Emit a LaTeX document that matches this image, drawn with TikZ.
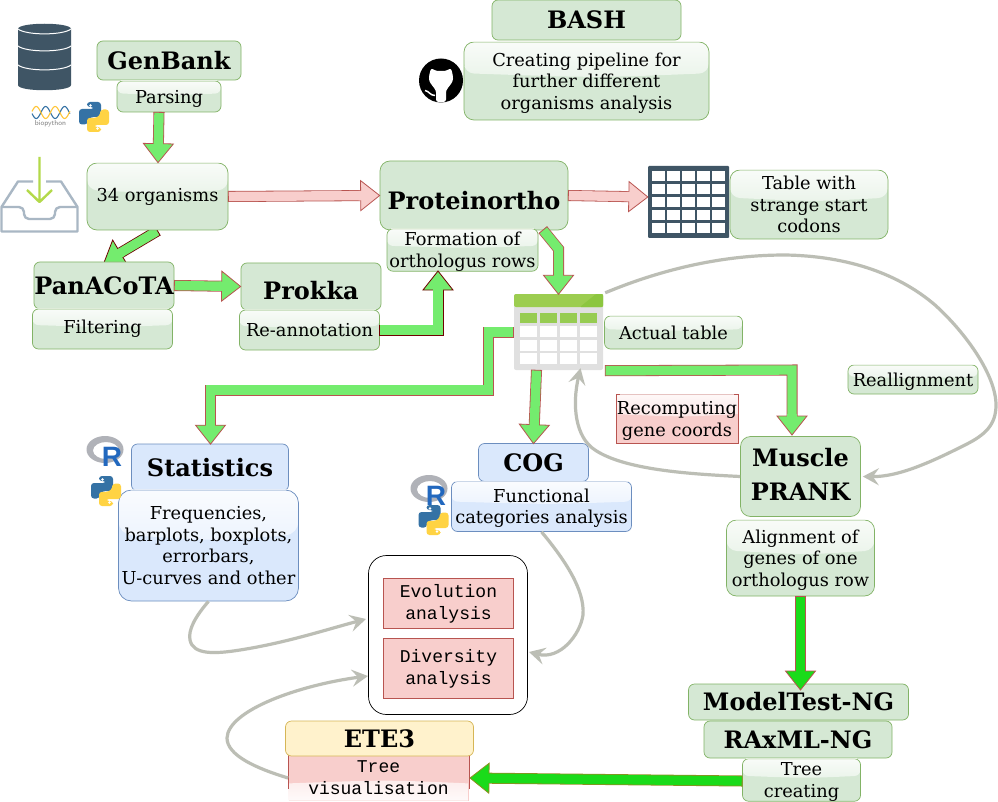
\documentclass[tikz,border=0pt]{standalone}
\usepackage{fontspec}
\setmainfont{DejaVu Serif}
\setmonofont{Liberation Mono}
\newfontfamily\logofont{Liberation Sans}
\usetikzlibrary{calc,arrows.meta,backgrounds,shapes.geometric}
\definecolor{gfill}{HTML}{D5E8D4}\definecolor{gline}{HTML}{82B366}
\definecolor{bfill}{HTML}{DAE8FC}\definecolor{bline}{HTML}{6C8EBF}
\definecolor{pfill}{HTML}{F8CECC}\definecolor{pline}{HTML}{B85450}
\definecolor{yfill}{HTML}{FFF2CC}\definecolor{yline}{HTML}{D6B656}
\definecolor{arrowg}{HTML}{74EC6E}\definecolor{arrowd}{HTML}{1ADB1A}
\definecolor{darkred}{HTML}{6F0000}\definecolor{olivel}{HTML}{8E8E20}
\definecolor{curveg}{HTML}{BCBEB5}\definecolor{slate}{HTML}{3F5565}
\definecolor{tray}{HTML}{A9B7C4}\definecolor{lime}{HTML}{B3D94A}
\definecolor{pyblue}{HTML}{3572A5}\definecolor{pyyel}{HTML}{FFD343}
\definecolor{rblue}{HTML}{2268BE}\definecolor{rgray}{HTML}{B0B2B8}
\definecolor{tgreen}{HTML}{9CCD50}\definecolor{tgreend}{HTML}{8CC63F}
\definecolor{tgray}{HTML}{E0E0E0}
\newcommand{\pushd}{\rule{0pt}{17pt}}
\tikzset{
  sz/.style 2 args={minimum width=#1pt,minimum height=#2pt},
  boxbase/.style={inner sep=0pt,align=center,font=\fontsize{17.8}{21.5}\selectfont,rounded corners=6pt,line width=.7pt},
  title/.style={font=\fontsize{24}{33}\selectfont\bfseries},
  gloss/.style={path picture={\shade[top color=white!85!#1,bottom color=white!12!#1]
    (path picture bounding box.north west) -- (path picture bounding box.north east)
    -- ($(path picture bounding box.north east)!.4!(path picture bounding box.south east)$)
    .. controls ($(path picture bounding box.north east)!.46!(path picture bounding box.south west)$) ..
    ($(path picture bounding box.north west)!.4!(path picture bounding box.south west)$) -- cycle;},
    append after command={([xshift=4pt]\tikzlastnode.north west) edge[white,opacity=.65,line width=.9pt] ([xshift=-4pt]\tikzlastnode.north east)}},
  glossflip/.style={path picture={\shade[bottom color=white!90!#1,top color=white!30!#1]
    (path picture bounding box.south west) -- (path picture bounding box.south east)
    -- ($(path picture bounding box.south east)!.38!(path picture bounding box.north east)$)
    .. controls ($(path picture bounding box.south east)!.46!(path picture bounding box.north west)$) ..
    ($(path picture bounding box.south west)!.38!(path picture bounding box.north west)$) -- cycle;}},
  gbox/.style={boxbase,fill=gfill,draw=gline},
  gglass/.style={gbox,gloss=gfill},
  bbox/.style={boxbase,fill=bfill,draw=bline},
  bglass/.style={bbox,gloss=bfill},
  ybox/.style={boxbase,fill=yfill,draw=yline},
  pbox/.style={boxbase,rounded corners=0pt,fill=pfill,draw=pline,font=\ttfamily\fontsize{18}{22}\selectfont},
  iconbox/.style={inner sep=0pt,draw=none},
  curve/.style={draw=curveg,line width=3.2pt,-{Stealth[length=16pt,width=17pt,inset=6pt]}},
}
\newcommand{\blockarrow}[7]{%
  \coordinate (ba-base) at ($#7!19pt!#6$);
  \draw[#2,line width=.8pt,double=#1,double distance=9.4pt,line join=miter] #3 #5 -- (ba-base);
  \draw[#2,line width=.8pt] ($#3!5.5pt!90:#4$) -- ($#3!5.5pt!-90:#4$);
  \filldraw[fill=#1,draw=#2,line width=.8pt,line join=miter] #7 -- ($(ba-base)!15pt!90:#7$) -- ($(ba-base)!15pt!-90:#7$) -- cycle;
  \draw[#1,line width=9.4pt] ($(ba-base)!2pt!#6$) -- ($(ba-base)!2pt!#7$);
}
\newcommand{\pylogo}[2]{%
  \begin{scope}[shift={(#1,#2)}]
    \fill[pyblue,rounded corners=3pt] (-7,-15) -- (7,-15) -- (7,0) -- (-3,0) -- (-6.5,3) -- (-6.5,7.5) -- (-15,7.5) -- (-15,-8) -- (0,-8) -- (0,-10) -- (-7,-10) -- cycle;
    \fill[pyyel,rounded corners=3pt] (7,15) -- (-7,15) -- (-7,0.8) -- (3,0.8) -- (6.5,-3) -- (6.5,-7.5) -- (15,-7.5) -- (15,8) -- (0,8) -- (0,10) -- (7,10) -- cycle;
    \fill[white] (-3.5,-11.5) circle (1.4pt) (3.5,11.5) circle (1.4pt);
  \end{scope}}
\newcommand{\rlogo}[2]{%
  \begin{scope}[shift={(#1,#2)}]
    \fill[rgray,even odd rule] (0,0) ellipse (18.5pt and 13.5pt) (1,1) ellipse (13pt and 8.5pt);
    \node[text=rblue,font=\logofont\bfseries\fontsize{28}{28}\selectfont,inner sep=0pt] (rletter#1) at (7,7) {R};
  \end{scope}}
\begin{document}
\begin{tikzpicture}[x=1pt,y=-1pt]
\useasboundingbox (0,0) rectangle (998,802);
\begin{pgfonlayer}{background}
\fill[white] (0,0) rectangle (998,802);
\end{pgfonlayer}
% nodes
\node[gbox,title,sz={189}{40}] (bash) at (586.5,20) {BASH};
\node[gglass,sz={245}{78},rounded corners=10pt] (pipeline) at (586.5,81) {\pushd Creating pipeline for\\further different\\organisms analysis};
\node[gbox,title,sz={144}{39}] (genbank) at (169,60.5) {GenBank};
\node[gglass,sz={104}{31}] (parsing) at (169,96.5) {\pushd Parsing};
\node[gglass,sz={141}{67},rounded corners=10pt] (org) at (157.5,196.5) {34 organisms};
\node[gbox,title,sz={188}{69},rounded corners=10pt] (proteinortho) at (474,195.5) {\rule{0pt}{29pt}Proteinortho};
\node[gglass,sz={151}{42}] (formation) at (462.5,250) {\pushd Formation of\\orthologus rows};
\node[gglass,sz={158}{69},rounded corners=10pt] (strange) at (809,204.5) {Table with\\strange start\\codons};
\node[gbox,title,sz={140}{47}] (panacota) at (104,285.5) {PanACoTA};
\node[gglass,sz={140}{40}] (filtering) at (102.5,329) {Filtering};
\node[gbox,title,sz={140}{47}] (prokka) at (311,286.5) {\rule{0pt}{27pt}Prokka};
\node[gglass,sz={140}{40}] (reann) at (309.5,330) {Re-annotation};
\node[gglass,sz={138}{33}] (actual) at (673.5,332.5) {Actual table};
\node[gglass,sz={130}{29}] (realign) at (913,379.5) {\pushd Reallignment};
\node[boxbase,rounded corners=0pt,fill=pfill,draw=pline,gloss=pfill,sz={122}{49}] (recomp) at (677,419) {\pushd Recomputing\\gene coords};
\node[gbox,title,sz={120}{80},rounded corners=10pt] (muscle) at (800.5,476.5) {\raisebox{4pt}{\begin{tabular}{@{}c@{}}Muscle\\[1pt]PRANK\end{tabular}}};
\node[gglass,sz={148}{76},rounded corners=10pt] (alignment) at (800.5,558) {\pushd Alignment of\\genes of one\\orthologus row};
\node[gbox,title,sz={220}{36}] (modeltest) at (798.5,702) {ModelTest-NG};
\node[gbox,title,sz={188}{37}] (raxml) at (798,739.5) {RAxML-NG};
\node[gglass,sz={118}{41}] (treecreate) at (801.5,780) {\pushd Tree\\creating};
\node[boxbase,rounded corners=0pt,fill=pfill,glossflip=pfill,font=\ttfamily\fontsize{18}{22}\selectfont,sz={180}{45}] (treevis) at (378.5,778) {Tree\\visualisation};
\draw[pline,line width=.7pt] (treevis.north west) -- ++(0,34) (treevis.north east) -- ++(0,34);
\node[ybox,title,sz={188}{35}] (ete) at (379.5,738.5) {ETE3};
\node[bbox,title,sz={157}{47}] (stat) at (210,467.5) {Statistics};
\node[bglass,sz={180}{111},rounded corners=13pt] (freq) at (208.5,545.5) {Frequencies,\\barplots, boxplots,\\errorbars,\\U-curves and other};
\node[bbox,title,sz={110}{38}] (cog) at (533.5,462.5) {COG};
\node[bglass,sz={180}{50}] (func) at (541.5,506.5) {\pushd Functional\\categories analysis};
\node[draw=black,fill=white,rounded corners=18pt,line width=.7pt,minimum width=159pt,minimum height=159pt,inner sep=0pt] (container) at (448,635) {};
\node[pbox,sz={130}{50}] (evol) at (448.5,603.5) {Evolution\\analysis};
\node[pbox,sz={130}{60}] (div) at (448.5,668.5) {Diversity\\analysis};
% icons
\node[iconbox,fill=slate,minimum width=81pt,minimum height=72pt,rounded corners=1pt] (grid) at (688.5,202) {};
\foreach \r in {0,...,4}\foreach \c in {0,...,4}
  \fill[white] (652.3+15*\c,170.7+13*\r) rectangle ++(12.6,10.4);
\node[iconbox,fill=tgray,minimum width=89pt,minimum height=76pt,rounded corners=2pt] (gtable) at (558.5,332) {};
\fill[tgreen,rounded corners=2pt] (514,307) -- (514,294) -- (603,294) -- (603,307) -- cycle;
\fill[tgreend,rounded corners=1pt] (580,307) -- (596,294) -- (603,294) -- (603,307) -- cycle;
\foreach \c in {520,540,560,580}{
  \fill[tgreend!90!white] (\c,313.3) rectangle ++(17,10);
  \foreach \r in {326,340,353} \fill[white] (\c,\r) rectangle ++(17,10.5);
}
% database
\node[iconbox,minimum width=53pt,minimum height=66pt] (db) at (44.5,57) {};
\fill[slate] (18,29) .. controls (18,22) and (71,22) .. (71,29) -- (71,85) .. controls (71,92) and (18,92) .. (18,85) -- cycle;
\foreach \yy in {29,46,65}
  \draw[white,line width=1pt] (18,\yy) .. controls (26,\yy+6.5) and (63,\yy+6.5) .. (71,\yy);
% biopython
\node[iconbox,font=\sffamily\fontsize{7.2}{8}\selectfont,text=gray] (biotext) at (50.5,124) {biopython};
\draw[pyblue,line width=1.1pt,domain=32:70,samples=60,smooth] plot (\x,{112.5+6*sin(19*(\x-32)+10)});
\draw[pyyel!85!orange,line width=1.1pt,domain=32:70,samples=60,smooth] plot (\x,{112.5-6*sin(19*(\x-32)+10)});
\pylogo{94}{117}
% inbox
\node[iconbox,minimum width=78pt,minimum height=75pt] (inbox) at (39.5,194.5) {};
\draw[tray,line width=2.4pt,line join=round] (33,181.5) -- (18,181.5) -- (1.5,207) -- (1.5,231.5) -- (77.5,231.5) -- (77.5,207) -- (61,181.5) -- (46,181.5);
\draw[tray,line width=2.4pt,line join=round,rounded corners=5pt] (1.5,207) -- (24,207) -- (24,219) -- (55,219) -- (55,207) -- (77.5,207);
\draw[lime,line width=2.4pt,line join=round] (39.5,157) -- (39.5,202) (27,190) -- (39.5,202) -- (52,190);
% R and python logos
\rlogo{105}{449.5}
\pylogo{106}{491}
\rlogo{429}{488.5}
\pylogo{433.5}{520}
% github
\node[iconbox,circle,fill=black,minimum size=44pt] (github) at (441,80.5) {};
\fill[white,rounded corners=2.5pt] (431,68) -- (436,71) -- (446,71) -- (451,68) -- (453,76) -- (453,81) -- (448,88) -- (446,90) -- (446,102) -- (436,102) -- (436,90) -- (434,88) -- (429,81) -- (429,76) -- cycle;
\draw[white,line width=1.5pt] (425,90.5) .. controls (429,91) and (430,95.5) .. (435,95.5);
% block arrows
\coordinate (a1s) at ([xshift=-10pt]parsing.south);
\coordinate (a1t) at ([xshift=.5pt]org.north);
\blockarrow{arrowg}{pline}{(a1s)}{(a1t)}{}{(a1s)}{(a1t)}
\blockarrow{pfill}{pline}{(org.east)}{(proteinortho.west)}{}{(org.east)}{(proteinortho.west)}
\coordinate (a3s) at ([yshift=0pt]proteinortho.east);
\coordinate (a3t) at ([yshift=5pt]grid.west);
\blockarrow{pfill}{pline}{(a3s)}{(a3t)}{}{(a3s)}{(a3t)}
\begin{pgfonlayer}{background}
\coordinate (a4s) at ([yshift=-.5pt]org.south);
\coordinate (a4t) at ([yshift=-1pt]panacota.north);
\blockarrow{arrowg}{darkred}{(a4s)}{(a4t)}{}{(a4s)}{(a4t)}
\end{pgfonlayer}
\coordinate (a5s) at (panacota.east);
\coordinate (a5t) at (prokka.west);
\blockarrow{arrowg}{pline}{(a5s)}{(a5t)}{}{(a5s)}{(a5t)}
\coordinate (a6t) at (438,271);
\coordinate (a6e) at (438,330);
\blockarrow{arrowg}{darkred}{(reann.east)}{(a6e)}{-- (a6e)}{(a6e)}{(a6t)}
\coordinate (a7s) at (543,230);
\coordinate (a7b) at (558.5,249);
\coordinate (a7t) at ([yshift=-.5pt]gtable.north);
\blockarrow{arrowg}{pline}{(a7s)}{(a7b)}{-- (a7b)}{(a7b)}{(a7t)}
\coordinate (a8s) at ([yshift=0pt]gtable.west);
\coordinate (a8a) at (488.5,332);
\coordinate (a8b) at (488.5,390);
\coordinate (a8c) at (210.5,390);
\coordinate (a8t) at ([xshift=.5pt,yshift=-.5pt]stat.north);
\blockarrow{arrowg}{pline}{(a8s)}{(a8a)}{-- (a8a) -- (a8b) -- (a8c)}{(a8c)}{(a8t)}
\coordinate (a9s) at ([xshift=-22pt]gtable.south);
\coordinate (a9t) at ([yshift=-.5pt]cog.north);
\blockarrow{arrowg}{pline}{(a9s)}{(a9t)}{}{(a9s)}{(a9t)}
\coordinate (a10s) at ([xshift=2pt,yshift=-.5pt]gtable.south east);
\coordinate (a10b) at (792,370);
\coordinate (a10t) at (792,435);
\blockarrow{arrowg}{pline}{(a10s)}{(a10b)}{-- (a10b)}{(a10b)}{(a10t)}
\coordinate (a11t) at (800.5,690);
\blockarrow{arrowd}{pline}{(alignment.south)}{(a11t)}{}{(alignment.south)}{(a11t)}
\coordinate (a12s) at ([yshift=-1pt]treecreate.west);
\coordinate (a12t) at (470,778);
\blockarrow{arrowd}{olivel}{(a12s)}{(a12t)}{}{(a12s)}{(a12t)}
% curved connectors
\coordinate (c1s) at ([xshift=2pt,yshift=1pt]gtable.north east);
\coordinate (c1t) at ([xshift=2pt]muscle.east);
\draw[curve] (c1s) .. controls (665,268) and (725,255) .. (785,255) .. controls (850,256) and (900,275) .. (935,305) .. controls (965,332) and (996,375) .. (996,405) .. controls (996,425) and (985,435) .. (965,445) .. controls (935,460) and (900,477) .. (c1t);
\coordinate (c2t) at ([xshift=22pt,yshift=2pt]gtable.south);
\draw[curve] (muscle.west) .. controls (690,474) and (625,470) .. (595,450) .. controls (575,437) and (572,405) .. (c2t);
\coordinate (c3t) at (366,619);
\draw[curve] (freq.south) .. controls (195,617) and (188,630) .. (190,640) .. controls (193,655) and (215,654) .. (240,650) .. controls (285,643) and (325,630) .. (c3t);
\coordinate (c4t) at (529,652);
\draw[curve] (func.south) .. controls (565,560) and (585,590) .. (583,615) .. controls (580,635) and (560,660) .. (c4t);
\coordinate (c5t) at (368,676);
\draw[curve] (treevis.west) .. controls (255,768) and (227,755) .. (227,738) .. controls (228,710) and (300,685) .. (c5t);
\end{tikzpicture}
\end{document}
